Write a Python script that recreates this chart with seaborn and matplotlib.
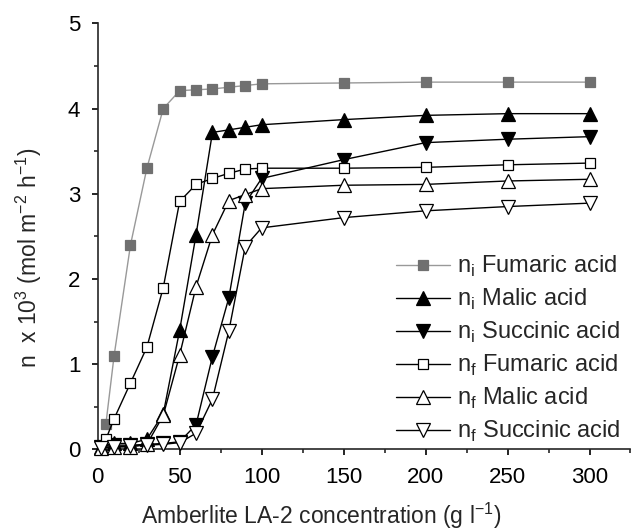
import numpy as np
import pandas as pd
import matplotlib
matplotlib.use("Agg")
import matplotlib.pyplot as plt
from matplotlib.ticker import MultipleLocator
import seaborn as sns

# concentration of Amberlite LA-2 (g/l)
x_sq = [5, 10, 20, 30, 40, 50, 60, 70, 80, 90, 100, 150, 200, 250, 300]
x_tri = [2, 10, 20, 30, 40, 50, 60, 70, 80, 90, 100, 150, 200, 250, 300]

ni_fumaric = [0.30, 1.10, 2.40, 3.30, 4.00, 4.21, 4.22, 4.23, 4.25, 4.27, 4.29,
              4.30, 4.31, 4.31, 4.31]
ni_malic = [0.03, 0.07, 0.07, 0.12, 0.42, 1.40, 2.52, 3.72, 3.75, 3.78, 3.81,
            3.87, 3.92, 3.94, 3.94]
ni_succinic = [0.03, 0.05, 0.05, 0.06, 0.07, 0.09, 0.29, 1.09, 1.78, 2.89,
               3.18, 3.40, 3.60, 3.64, 3.67]
nf_fumaric = [0.12, 0.36, 0.78, 1.20, 1.90, 2.91, 3.11, 3.18, 3.24, 3.29, 3.30,
              3.30, 3.31, 3.34, 3.36]
nf_malic = [0.02, 0.03, 0.03, 0.06, 0.40, 1.11, 1.91, 2.52, 2.92, 2.99, 3.06,
            3.10, 3.11, 3.15, 3.17]
nf_succinic = [0.02, 0.03, 0.04, 0.05, 0.06, 0.08, 0.19, 0.59, 1.39, 2.38,
               2.60, 2.72, 2.80, 2.85, 2.89]

sns.set_style("ticks")
plt.rcParams["font.family"] = ["Liberation Sans", "DejaVu Sans"]
plt.rcParams["mathtext.fontset"] = "custom"
plt.rcParams["mathtext.rm"] = "Liberation Sans"

fig = plt.figure(figsize=(6.32, 5.30), dpi=100)
ax = fig.add_axes([0.1546, 0.152, 0.843, 0.804])

series = [
    (x_sq, ni_fumaric, "n$_\\mathregular{i}$ Fumaric acid", "s", "#707070", "#707070", "#999999", 6.5),
    (x_tri, ni_malic, "n$_\\mathregular{i}$ Malic acid", "^", "black", "black", "black", 9.5),
    (x_tri, ni_succinic, "n$_\\mathregular{i}$ Succinic acid", "v", "black", "black", "black", 9.5),
    (x_sq, nf_fumaric, "n$_\\mathregular{f}$ Fumaric acid", "s", "white", "black", "black", 7),
    (x_tri, nf_malic, "n$_\\mathregular{f}$ Malic acid", "^", "white", "black", "black", 9.5),
    (x_tri, nf_succinic, "n$_\\mathregular{f}$ Succinic acid", "v", "white", "black", "black", 9.5),
]

for xs, ys, label, mk, fc, ec, lc, ms in series:
    df = pd.DataFrame({"x": xs, "y": ys})
    sns.lineplot(data=df, x="x", y="y", ax=ax, color=lc, linewidth=1.0,
                 marker=mk, markersize=ms, markerfacecolor=fc,
                 markeredgecolor=ec, markeredgewidth=0.9, label=label,
                 clip_on=False, zorder=3)

ax.set_xlim(0, 325)
ax.set_ylim(0, 5)
ax.xaxis.set_major_locator(MultipleLocator(50))
ax.xaxis.set_minor_locator(MultipleLocator(25))
ax.yaxis.set_major_locator(MultipleLocator(1))
ax.yaxis.set_minor_locator(MultipleLocator(0.5))
ax.tick_params(which="major", direction="out", length=4.5, width=1.2,
               labelsize=16, colors="black", pad=8)
ax.tick_params(which="minor", direction="out", length=3, width=1.2)
for s in ["left", "bottom"]:
    ax.spines[s].set_linewidth(1.2)
sns.despine(ax=ax)

ax.set_xlabel("Amberlite LA-2 concentration (g l$^{\\mathregular{-1}}$)",
              fontsize=16.5)
ax.set_ylabel("n  x 10$^{\\mathregular{3}}$ (mol m$^{\\mathregular{-2}}$ h$^{\\mathregular{-1}}$)",
              fontsize=16.5)
ax.xaxis.set_label_coords(0.42, -0.12)
ax.yaxis.set_label_coords(-0.10, 0.45)

ax.legend(loc="lower right", bbox_to_anchor=(1.0, -0.01), frameon=False,
          fontsize=17, handlelength=2.3, handletextpad=0.3,
          labelspacing=0.33, borderaxespad=0.0)

fig.savefig("out.png", dpi=100)
